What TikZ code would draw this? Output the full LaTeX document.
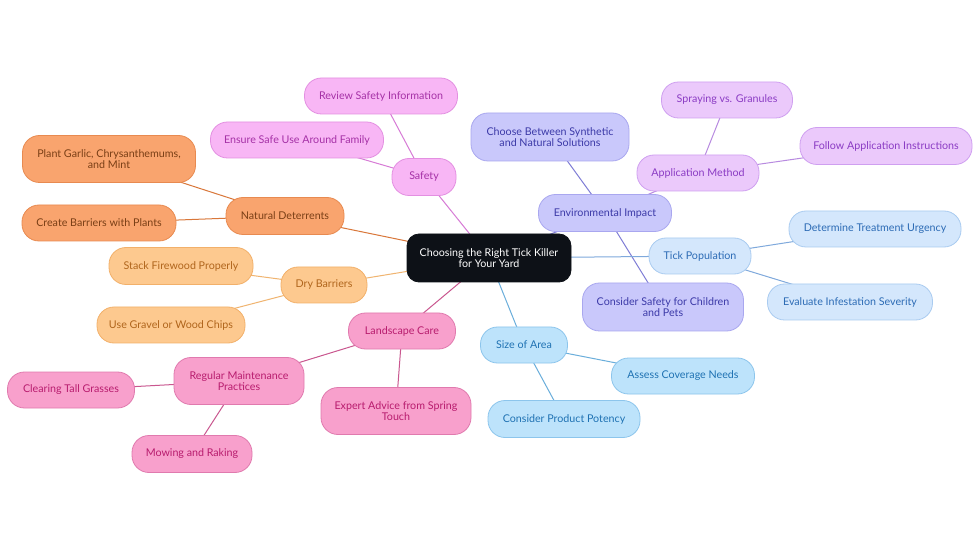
\documentclass[tikz,border=0pt]{standalone}
\usepackage{fontspec}
\setmainfont{Lato}
\usetikzlibrary{backgrounds}
\definecolor{cfill}{HTML}{0D1117}
\definecolor{sffill}{HTML}{F8B6F5}\definecolor{sfdraw}{HTML}{E38FE1}\definecolor{sftext}{HTML}{A531A6}\definecolor{sfedge}{HTML}{D77BD6}
\definecolor{ndfill}{HTML}{F9A46E}\definecolor{nddraw}{HTML}{E88A50}\definecolor{ndtext}{HTML}{7A3F16}\definecolor{ndedge}{HTML}{D9773A}
\definecolor{dbfill}{HTML}{FDC98F}\definecolor{dbdraw}{HTML}{F2B06A}\definecolor{dbtext}{HTML}{B0651C}\definecolor{dbedge}{HTML}{F0B470}
\definecolor{lcfill}{HTML}{F8A0CC}\definecolor{lcdraw}{HTML}{E07AAE}\definecolor{lctext}{HTML}{B81C6E}\definecolor{lcedge}{HTML}{C9578F}
\definecolor{eifill}{HTML}{C9C8FB}\definecolor{eidraw}{HTML}{A9A7EF}\definecolor{eitext}{HTML}{3C3AA8}\definecolor{eiedge}{HTML}{7F7DD6}
\definecolor{amfill}{HTML}{EBC9FB}\definecolor{amdraw}{HTML}{CF9FF0}\definecolor{amtext}{HTML}{8B3CC4}\definecolor{amedge}{HTML}{B88AE0}
\definecolor{tpfill}{HTML}{D4E7FC}\definecolor{tpdraw}{HTML}{A9CBF0}\definecolor{tptext}{HTML}{2C6BB5}\definecolor{tpedge}{HTML}{7FA9DC}
\definecolor{safill}{HTML}{BDE3FB}\definecolor{sadraw}{HTML}{8CC5EC}\definecolor{satext}{HTML}{1F72B3}\definecolor{saedge}{HTML}{6AAEDB}
\begin{document}
\begin{tikzpicture}[x=1pt,y=-1pt,
  base/.style={rounded corners=17pt, line width=0.8pt, align=center, inner sep=0pt,
    font=\fontsize{10.7}{11.7}\selectfont},
  sz/.style 2 args={minimum width=#1pt, minimum height=#2pt},
  sf/.style={base, fill=sffill, draw=sfdraw, text=sftext},
  nd/.style={base, fill=ndfill, draw=nddraw, text=ndtext},
  db/.style={base, fill=dbfill, draw=dbdraw, text=dbtext},
  lc/.style={base, fill=lcfill, draw=lcdraw, text=lctext},
  ei/.style={base, fill=eifill, draw=eidraw, text=eitext},
  am/.style={base, fill=amfill, draw=amdraw, text=amtext},
  tp/.style={base, fill=tpfill, draw=tpdraw, text=tptext},
  sa/.style={base, fill=safill, draw=sadraw, text=satext},
  ed/.style={line width=1pt}
]
\useasboundingbox (0,0) rectangle (980,553);

\node[base, rounded corners=12pt, fill=cfill, draw=cfill, text=white, sz={164}{48}] (c) at (489,258) {Choosing the Right Tick Killer\\for Your Yard};

% Safety
\node[sf, sz={64}{37}] (safety) at (424,177) {Safety};
\node[sf, sz={153}{36}] (rsi) at (381,96) {Review Safety Information};
\node[sf, sz={173}{36}] (esu) at (297,140) {Ensure Safe Use Around Family};

% Natural deterrents
\node[nd, sz={118}{37}] (nd) at (285,216) {Natural Deterrents};
\node[nd, sz={173}{47}] (pg) at (109,159) {Plant Garlic, Chrysanthemums,\\and Mint};
\node[nd, sz={154}{36}] (cb) at (99,223) {Create Barriers with Plants};

% Dry barriers
\node[db, sz={86}{36}] (db) at (324,285) {Dry Barriers};
\node[db, sz={144}{37}] (sfp) at (181,266) {Stack Firewood Properly};
\node[db, sz={148}{36}] (ug) at (171,325) {Use Gravel or Wood Chips};

% Landscape care
\node[lc, sz={107}{36}] (lc) at (402,331) {Landscape Care};
\node[lc, sz={130}{47}] (rm) at (239,381) {Regular Maintenance\\Practices};
\node[lc, sz={127}{36}] (ctg) at (71,390) {Clearing Tall Grasses};
\node[lc, sz={120}{37}] (mr) at (192,454) {Mowing and Raking};
\node[lc, sz={150}{47}] (ea) at (396,411) {Expert Advice from Spring\\Touch};

% Environmental impact
\node[ei, sz={133}{37}] (ei) at (605,213) {Environmental Impact};
\node[ei, sz={158}{48}] (cbs) at (550,137) {Choose Between Synthetic\\and Natural Solutions};
\node[ei, sz={161}{48}] (csc) at (663,307) {Consider Safety for Children\\and Pets};

% Application method
\node[am, sz={122}{36}] (am) at (698,173) {Application Method};
\node[am, sz={131}{36}] (svg) at (727,100) {Spraying vs. Granules};
\node[am, sz={172}{37}] (fai) at (886,146) {Follow Application Instructions};

% Tick population
\node[tp, sz={102}{36}] (tp) at (700,256) {Tick Population};
\node[tp, sz={172}{36}] (dtu) at (875,229) {Determine Treatment Urgency};
\node[tp, sz={165}{36}] (eis) at (850,302) {Evaluate Infestation Severity};

% Size of area
\node[sa, sz={87}{36}] (sa) at (524,345) {Size of Area};
\node[sa, sz={143}{36}] (acn) at (683,376) {Assess Coverage Needs};
\node[sa, sz={152}{37}] (cpp) at (564,419) {Consider Product Potency};

\begin{scope}[on background layer]
\fill[white] (0,0) rectangle (980,553);
\draw[ed, sfedge] (c.center) -- (safety.center) (safety.center) -- (rsi.center) (safety.center) -- (esu.center);
\draw[ed, ndedge] (c.center) -- (nd.center) (nd.center) -- (pg.center) (nd.center) -- (cb.center);
\draw[ed, dbedge] (c.center) -- (db.center) (db.center) -- (sfp.center) (db.center) -- (ug.center);
\draw[ed, lcedge] (c.center) -- (lc.center) (lc.center) -- (rm.center) (lc.center) -- (ea.center) (rm.center) -- (ctg.center) (rm.center) -- (mr.center);
\draw[ed, eiedge] (c.center) -- (ei.center) (ei.center) -- (cbs.center) (ei.center) -- (csc.center);
\draw[ed, amedge] (ei.center) -- (am.center) (am.center) -- (svg.center) (am.center) -- (fai.center);
\draw[ed, tpedge] (c.center) -- (tp.center) (tp.center) -- (dtu.center) (tp.center) -- (eis.center);
\draw[ed, saedge] (c.center) -- (sa.center) (sa.center) -- (acn.center) (sa.center) -- (cpp.center);
\end{scope}
\end{tikzpicture}
\end{document}
